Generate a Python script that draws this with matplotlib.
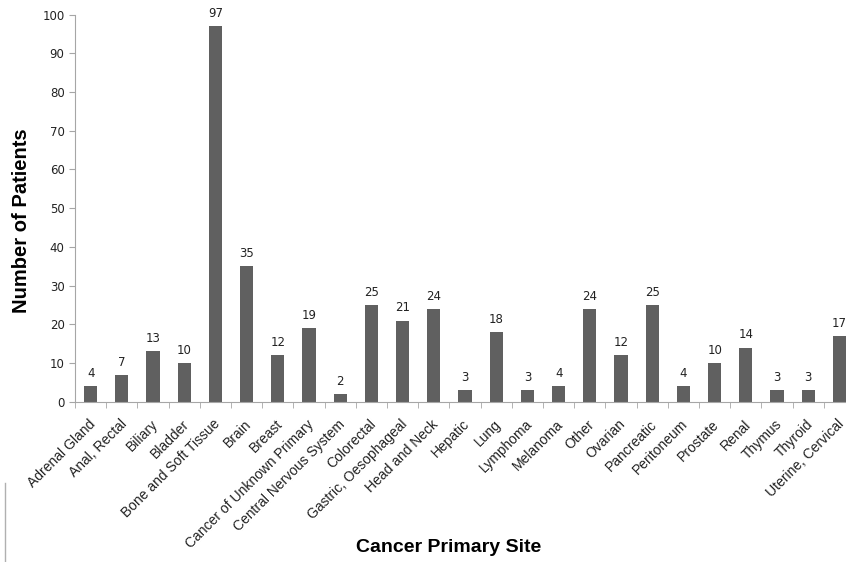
import matplotlib
matplotlib.use("Agg")
import matplotlib.pyplot as plt
import matplotlib.transforms as mtransforms
from matplotlib.lines import Line2D

# patients per cancer primary site
sites = ["Adrenal Gland", "Anal, Rectal", "Biliary", "Bladder",
         "Bone and Soft Tissue", "Brain", "Breast",
         "Cancer of Unknown Primary", "Central Nervous System", "Colorectal",
         "Gastric, Oesophageal", "Head and Neck", "Hepatic", "Lung",
         "Lymphoma", "Melanoma", "Other", "Ovarian", "Pancreatic",
         "Peritoneum", "Prostate", "Renal", "Thymus", "Thyroid",
         "Uterine, Cervical"]
patients = [4, 7, 13, 10, 97, 35, 12, 19, 2, 25, 21, 24, 3, 18, 3, 4, 24,
            12, 25, 4, 10, 14, 3, 3, 17]

BAR_COLOR = "#606060"
AXIS_COLOR = "#a6a6a6"

fig = plt.figure(figsize=(8.46, 5.62), dpi=100)
# plot area runs past the right edge of the figure
ax = fig.add_axes([0.0887, 0.285, 0.922, 0.689])

x = list(range(len(sites)))
ax.bar(x, patients, width=0.42, color=BAR_COLOR, zorder=2)

for xi, v in zip(x, patients):
    ax.text(xi, v + 1.6, str(v), ha="center", va="bottom",
            fontsize=8.5, color="#222222", family="DejaVu Sans")

ax.set_xlim(-0.5, len(sites) - 0.5)
ax.set_ylim(0, 100)
ax.set_yticks(range(0, 101, 10))
ax.tick_params(axis="y", labelsize=8.5, length=4, color=AXIS_COLOR,
               labelcolor="#222222")

# category labels, ticks sit between the categories
ax.set_xticks(x)
ax.set_xticklabels(sites, rotation=45, ha="right", rotation_mode="anchor",
                   fontsize=10, family="Liberation Sans", color="#222222")
ax.tick_params(axis="x", length=0, pad=11)
shift = mtransforms.ScaledTranslation(-2.5 / 100, 0, fig.dpi_scale_trans)
for lbl in ax.get_xticklabels():
    lbl.set_transform(lbl.get_transform() + shift)
ax.set_xticks([i - 0.5 for i in range(len(sites) + 1)], minor=True)
ax.tick_params(axis="x", which="minor", length=4, color=AXIS_COLOR)

for side in ["top", "right"]:
    ax.spines[side].set_visible(False)
for side in ["left", "bottom"]:
    ax.spines[side].set_color(AXIS_COLOR)

fig.text(0.026, 0.608, "Number of Patients", rotation=90, ha="center",
         va="center", fontsize=14.5, fontweight="bold", family="Liberation Sans")
fig.text(0.53, 0.025, "Cancer Primary Site", ha="center", va="center",
         fontsize=14, fontweight="bold", family="Liberation Sans")

# thin rule at the lower left edge
fig.add_artist(Line2D([0.006, 0.006], [0.0, 0.14], color="#b0b0b0", lw=1))

fig.savefig("out.png", dpi=100)
